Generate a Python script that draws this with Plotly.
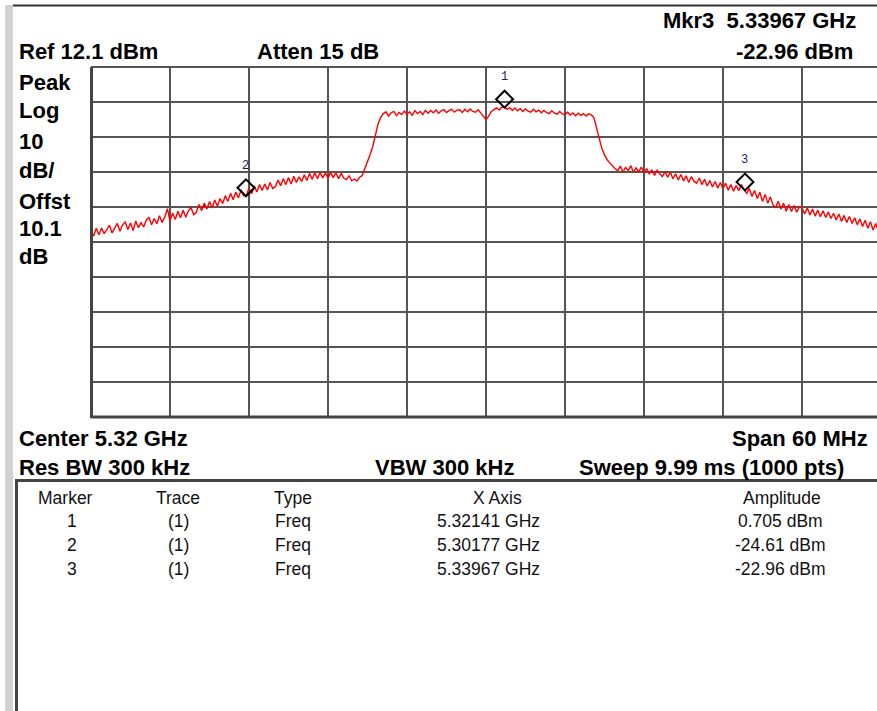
import numpy as np
import plotly.graph_objects as go

# ---------------- data ----------------
start_ghz = 5.29
stop_ghz = 5.35
ref_dbm = 12.1
db_per_div = 10

# trace amplitude (dBm), 301 points across the span
trace_dbm = [
    -34.6, -36.2, -34.0, -35.8, -33.9, -35.5, -34.4, -33.1, -35.3, -33.8,
    -32.6, -34.8, -33.0, -32.2, -34.3, -32.5, -34.6, -31.9, -33.8, -32.4,
    -33.6, -31.6, -30.9, -33.0, -31.2, -32.7, -30.4, -32.3, -30.8, -28.4,
    -31.9, -29.6, -31.5, -29.1, -31.0, -28.8, -30.8, -29.0, -28.1, -30.1,
    -29.4, -27.2, -29.0, -26.8, -28.5, -26.3, -28.2, -25.9, -27.7, -25.5,
    -26.9, -24.7, -26.3, -24.0, -25.8, -23.6, -25.3, -23.0, -24.7, -24.6,
    -22.5, -24.1, -21.9, -23.6, -21.5, -23.2, -21.3, -23.0, -20.9, -22.6,
    -22.1, -20.2, -21.8, -19.8, -21.5, -19.5, -21.3, -19.1, -20.9, -19.3,
    -20.6, -18.7, -20.3, -18.3, -20.0, -18.1, -19.8, -18.0, -19.6, -18.2,
    -19.7, -18.0, -19.5, -18.1, -19.8, -18.3, -19.7, -20.1, -19.0, -20.4,
    -19.9, -20.5, -19.4, -18.9, -17.0, -15.2, -12.9, -10.6, -7.5, -4.2,
    -2.3, -1.2, -0.7, -1.9, -1.0, -0.6, -1.8, -0.9, -1.5, -0.5,
    -1.4, -0.7, -1.7, -0.4, -1.2, -0.6, -1.5, -0.3, -1.1, -0.3,
    -1.0, -0.2, -1.1, -0.4, -0.1, -0.9, -0.3, 0.0, -0.8, -0.2,
    -0.1, -0.9, 0.0, -0.7, 0.1, -0.6, -0.8, -0.1, -1.0, -1.8,
    -2.9, -2.0, -0.6, -0.1, 0.4, -0.2, 0.6, 0.7, 0.0, 0.5,
    -0.3, 0.4, -0.4, 0.2, -0.6, 0.1, -0.5, -0.8, 0.0, -0.7,
    -0.2, -1.0, -0.3, -0.9, -1.2, -0.4, -1.1, -1.4, -0.6, -1.3,
    -1.5, -0.8, -1.6, -1.0, -1.8, -1.1, -1.7, -1.2, -1.9, -1.3,
    -1.6, -2.4, -5.5, -8.5, -11.2, -13.0, -14.4, -15.3, -16.2, -16.9,
    -17.6, -16.2, -17.9, -16.6, -17.5, -16.1, -18.0, -16.7, -17.8, -16.5,
    -18.3, -16.9, -18.4, -17.3, -18.9, -17.4, -18.5, -19.2, -17.8, -19.4,
    -18.0, -19.8, -18.4, -20.2, -18.6, -20.5, -19.0, -20.9, -19.2, -20.6,
    -21.1, -19.6, -21.5, -20.0, -21.9, -20.3, -22.2, -20.6, -22.5, -20.9,
    -22.7, -21.1, -23.1, -21.5, -23.4, -21.8, -23.2, -21.5, -22.9, -24.0,
    -22.6, -24.9, -23.2, -25.5, -23.7, -26.3, -24.3, -26.8, -25.0, -27.3,
    -28.0, -26.3, -28.5, -26.8, -29.1, -27.2, -29.2, -27.5, -29.4, -27.8,
    -28.1, -29.9, -28.2, -30.2, -28.5, -30.5, -28.8, -30.7, -29.0, -30.9,
    -29.3, -31.2, -29.7, -31.6, -29.9, -32.0, -30.3, -32.3, -30.6, -32.6,
    -31.0, -33.0, -31.3, -33.5, -31.7, -34.0, -32.1, -34.5, -32.6, -34.8, -33.0,
]
trace_ghz = np.linspace(start_ghz, stop_ghz, len(trace_dbm))

marker_ids = ["1", "2", "3"]
marker_ghz = [5.32141, 5.30177, 5.33967]
marker_dbm = [0.705, -24.61, -22.96]

# ---------------- layout helpers ----------------
W, H = 877, 711


def px(x, y):
    return x / W, 1 - y / H


PLOT_L, PLOT_T, PLOT_B = 91, 67, 417
DIV_PX = 79.0
visible_frac = (W - PLOT_L) / (10 * DIV_PX)
x_end = start_ghz + (stop_ghz - start_ghz) * visible_frac

fig = go.Figure()
fig.add_trace(go.Scatter(
    x=trace_ghz, y=trace_dbm, mode="lines",
    line=dict(color="#ff0000", width=1.4), hoverinfo="skip", showlegend=False,
))
DIAMOND_OFFSET_DB = 2.2
fig.add_trace(go.Scatter(
    x=marker_ghz, y=[a + DIAMOND_OFFSET_DB for a in marker_dbm], mode="markers",
    marker=dict(symbol="diamond-open", size=13, color="#000000", line=dict(width=2, color="#000000")),
    cliponaxis=False, showlegend=False, hoverinfo="skip",
))

annotations = []
for mid, f, a in zip(marker_ids, marker_ghz, marker_dbm):
    annotations.append(dict(
        x=f, y=a + DIAMOND_OFFSET_DB, xref="x", yref="y", text=mid, showarrow=False,
        yshift=22, font=dict(family="Liberation Mono", size=12, color="#1c1c50"),
    ))

BOLD = "Liberation Sans"


def txt(x, y, s, anchor="left", size=22, bold=True, color="#000000"):
    xp, yp = px(x, y)
    annotations.append(dict(
        x=xp, y=yp, xref="paper", yref="paper", text=("<b>%s</b>" % s) if bold else s,
        showarrow=False, xanchor=anchor, yanchor="middle",
        font=dict(family=BOLD, size=size, color=color),
    ))


txt(858, 21, "Mkr3\u00a0\u00a05.33967 GHz", anchor="right")
txt(855, 52, "-22.96 dBm", anchor="right")
txt(17, 52, "Ref 12.1 dBm")
txt(255, 52, "Atten 15 dB")
for s, y in zip(["Peak", "Log", "10", "dB/", "Offst", "10.1", "dB"],
                [82, 111, 141, 171, 201, 228, 256]):
    txt(17, y, s)
txt(17, 438, "Center 5.32 GHz")
txt(870, 438, "Span 60 MHz", anchor="right")
txt(17, 467, "Res BW 300 kHz")
txt(373, 467, "VBW 300 kHz")
txt(577, 467, "Sweep 9.99 ms (1000 pts)")

# marker table
TS = 17.5
TC = "#111111"
col_x = [65, 178, 293, 497, 782]
headers = ["Marker", "Trace", "Type", "X Axis", "Amplitude"]
for cx, h in zip(col_x, headers):
    txt(cx, 498, h, anchor="center", size=TS, bold=False, color=TC)
row_y = [521, 545, 569]
for ry, mid, f, a in zip(row_y, marker_ids, marker_ghz, marker_dbm):
    txt(72, ry, mid, anchor="center", size=TS, bold=False, color=TC)
    txt(178, ry, "(1)", anchor="center", size=TS, bold=False, color=TC)
    txt(273, ry, "Freq", anchor="left", size=TS, bold=False, color=TC)
    txt(488, ry, "%.5f GHz" % f, anchor="center", size=TS, bold=False, color=TC)
    txt(780, ry, "%s dBm" % ("%.4g" % a), anchor="center", size=TS, bold=False, color=TC)

shapes = []


def line(x0, y0, x1, y1, w=2, c="#444444"):
    a0, b0 = px(x0, y0)
    a1, b1 = px(x1, y1)
    shapes.append(dict(type="line", xref="paper", yref="paper", x0=a0, y0=b0, x1=a1, y1=b1,
                       line=dict(color=c, width=w), layer="above"))


# window chrome
r0 = px(5, 5)
r1 = px(13, H)
shapes.append(dict(type="rect", xref="paper", yref="paper", x0=r0[0], y0=r1[1], x1=r1[0], y1=r0[1],
                   fillcolor="#d2d2d2", line=dict(width=0), layer="below"))
line(13, 5.5, W, 5.5, w=2, c="#333333")
# graticule frame
line(PLOT_L + 0.5, PLOT_T, PLOT_L + 0.5, PLOT_B + 1, w=3, c="#444444")
line(PLOT_L, PLOT_B, W, PLOT_B, w=3, c="#444444")
line(PLOT_L, PLOT_T, W, PLOT_T, w=2, c="#555555")
# table box
line(15, 480.5, W, 480.5, w=3, c="#444444")
line(16.5, 480, 16.5, H, w=3, c="#444444")

xd0 = PLOT_L / W
yd0 = 1 - PLOT_B / H
yd1 = 1 - PLOT_T / H

fig.update_layout(
    width=W, height=H, margin=dict(l=0, r=0, t=0, b=0),
    paper_bgcolor="#ffffff", plot_bgcolor="#ffffff",
    xaxis=dict(domain=[xd0, 1], range=[start_ghz, x_end], tick0=start_ghz,
               dtick=(stop_ghz - start_ghz) / 10, showticklabels=False, ticks="",
               showgrid=True, gridcolor="#555555", gridwidth=2, zeroline=False, showline=False),
    yaxis=dict(domain=[yd0, yd1], range=[ref_dbm - 10 * db_per_div, ref_dbm], tick0=ref_dbm,
               dtick=db_per_div, showticklabels=False, ticks="",
               showgrid=True, gridcolor="#555555", gridwidth=2, zeroline=False, showline=False),
    annotations=annotations, shapes=shapes, showlegend=False,
)

fig.write_html("out.html", config={"displayModeBar": False},
               post_script="document.body.style.margin='0px';document.body.style.overflow='hidden';")
